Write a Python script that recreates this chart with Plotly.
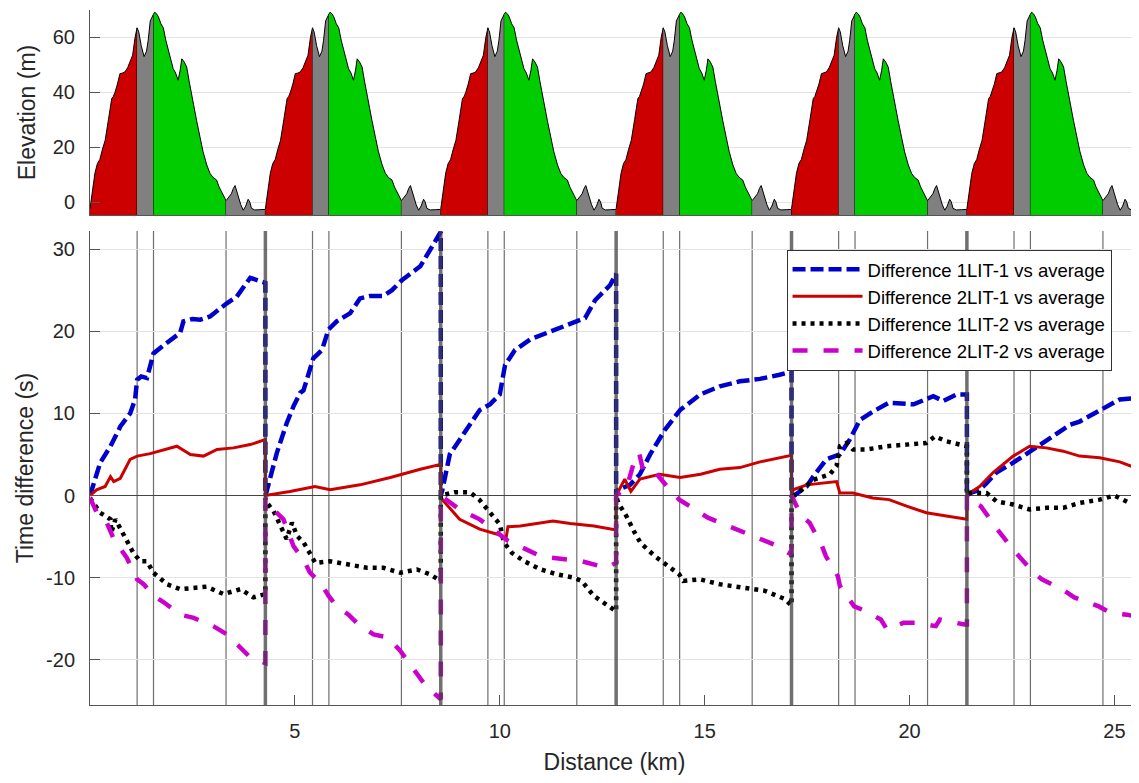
import plotly.graph_objects as go

# Course: one lap profile, repeated for every lap
lap_length = 4.28
n_laps = 6
segment_breaks = [1.15, 1.55, 3.32]
segment_colors = ["#CC0000", "#808080", "#00CC00", "#808080"]

profile_km = [0.00, 0.03, 0.06, 0.12, 0.18, 0.24, 0.30, 0.37, 0.45, 0.53, 0.57, 0.61, 0.67,
              0.73, 0.79, 0.85, 0.92, 0.98, 1.04, 1.10, 1.15, 1.19, 1.25, 1.32, 1.38, 1.42,
              1.47, 1.51, 1.55, 1.58, 1.63, 1.67, 1.73, 1.79, 1.85, 1.91, 1.97, 2.03, 2.09,
              2.15, 2.20, 2.24, 2.30, 2.36, 2.42, 2.48, 2.54, 2.60, 2.68, 2.76, 2.85, 2.93,
              3.00, 3.09, 3.15, 3.21, 3.27, 3.32, 3.38, 3.45, 3.50, 3.54, 3.58, 3.62, 3.68,
              3.74, 3.80, 3.86, 3.90, 3.94, 4.02, 4.15, 4.28]
profile_elev = [-2.5, 0.5, 4, 10.5, 14, 15.5, 19, 22.5, 30, 37.7, 38.5, 40, 43,
                46.8, 47, 47.4, 49, 51, 53.5, 60, 63.5, 62, 57, 53, 55, 59,
                66, 67, 68.5, 69.2, 68.5, 67.5, 65, 63.5, 59, 55.3, 52, 48.6, 47,
                44.4, 48, 52.2, 51, 49.2, 44, 38.9, 34, 29.8, 24, 18.3, 13.5, 10.4,
                9, 8, 5.5, 3.7, 2, 0.5, 1.5, 3, 5, 6, 4, 1.9, -1,
                -3, -1.5, 1, 0, -2.3, -2.9, -2.8, -2.7]

# Time differences (s) against distance (km)
lit11_km = [0, 0.25, 0.5, 0.74, 0.98, 1.1, 1.15, 1.25, 1.39, 1.55, 1.8, 2.2, 2.28, 2.5, 2.69, 2.93,
            3.34, 3.58, 3.91, 4.07, 4.28,
            4.28, 4.31, 4.56, 4.8, 4.97, 5.13, 5.21, 5.45, 5.66, 5.82, 6.02, 6.35, 6.59, 6.84,
            7.16, 7.37, 7.61, 8.06, 8.3, 8.56,
            8.56, 8.6, 8.78, 9.02, 9.27, 9.51, 9.76, 10.0, 10.13, 10.37, 10.74, 11.23, 11.72,
            12.08, 12.33, 12.69, 12.84,
            12.84, 12.89, 13.18, 13.42, 13.67, 14.03, 14.4, 14.89, 15.37, 15.86, 16.35, 16.83, 17.12,
            17.12, 17.16, 17.49, 17.65, 17.97, 18.3, 18.54, 18.79, 19.1, 19.5, 20.1, 20.58, 20.82,
            21.15, 21.4,
            21.4, 21.47, 21.71, 21.88, 22.12, 22.53, 23.01, 23.5, 23.91, 24.15, 24.65, 25.13, 25.6]
lit11_s = [0, 4, 6, 8.4, 10, 11.7, 14.1, 14.5, 14.3, 17.3, 18.3, 19.8, 21.2, 21.5, 21.4, 21.8,
           23.4, 24.2, 26.5, 26.2, 25.9,
           0, 0.5, 5.2, 8.8, 10.9, 12.5, 12.8, 16.7, 17.7, 20.2, 21.2, 22.2, 24.0, 24.3,
           24.3, 25.0, 26.2, 27.9, 29.9, 32.1,
           0, 0.7, 5, 6.8, 8.6, 10.4, 11.1, 12.3, 15.9, 17.7, 19, 19.9, 20.8,
           21.6, 23.8, 25.6, 27,
           0, 0.7, 1.3, 2.6, 5, 8, 10.4, 12.3, 13.3, 13.9, 14.2, 14.7, 15.1,
           0, -0.1, 1.1, 2.3, 4.4, 5, 6.8, 9.2, 10.2, 11.3, 11.1, 12.1, 11.5,
           12.3, 12.3,
           0, 0.3, 0.7, 1.5, 2.8, 4.0, 5.6, 7.2, 8.6, 9.0, 10.4, 11.7, 11.9]

lit21_km = [0, 0.16, 0.37, 0.5, 0.58, 0.74, 0.98, 1.15, 1.47, 1.8, 2.12, 2.45, 2.77, 3.1, 3.5, 3.91, 4.28,
            4.28, 4.88, 5.49, 5.86, 6.59, 7.33, 8.06, 8.56,
            8.56, 8.6, 9.02, 9.51, 10.0, 10.15, 10.2, 10.5, 11.3, 11.72, 12.3, 12.84,
            12.84, 13.05, 13.15, 13.2, 13.42, 13.9, 14.4, 14.9, 15.37, 15.86, 16.35, 16.83, 17.12,
            17.12, 17.16, 17.49, 17.81, 18.22, 18.3, 18.62, 19.1, 19.5, 19.93, 20.41, 20.9, 21.4,
            21.4, 21.47, 21.71, 22.04, 22.53, 22.93, 23.34, 23.75, 24.15, 24.64, 25.13, 25.6]
lit21_s = [0, 0.7, 1.1, 2.3, 1.7, 2.1, 4.4, 4.8, 5.1, 5.6, 6.0, 5.0, 4.8, 5.6, 5.8, 6.2, 6.8,
           0, 0.5, 1.1, 0.7, 1.3, 2.2, 3.2, 3.8,
           0, -0.5, -2.9, -4.1, -4.8, -5.3, -3.8, -3.7, -3.1, -3.4, -3.7, -4.2,
           0, 2, 1.0, 0.5, 2, 2.6, 2.2, 2.6, 3.2, 3.4, 4.1, 4.6, 4.9,
           0, 0.7, 1.3, 1.5, 1.7, 0.3, 0.3, -0.3, -0.5, -1.3, -2.1, -2.5, -2.9,
           0, 0.3, 1.1, 2.8, 4.8, 6.0, 5.8, 5.4, 4.8, 4.6, 4.1, 3.2]

lit12_km = [0, 0.25, 0.5, 0.52, 0.62, 0.82, 1.06, 1.23, 1.39, 1.55, 1.88, 2.2, 2.61, 2.85, 3.26,
            3.67, 3.99, 4.28,
            4.28, 4.32, 4.48, 4.72, 4.8, 4.93, 5.05, 5.21, 5.41, 5.5, 5.86, 6.35, 6.76, 7.16,
            7.57, 7.98, 8.3, 8.56,
            8.56, 8.9, 9.27, 9.5, 10.0, 10.1, 10.3, 10.6, 11.0, 11.4, 11.8, 12.0, 12.29, 12.84,
            12.84, 12.89, 13.09, 13.29, 13.44, 13.79, 14.08, 14.38, 14.48, 14.88, 15.37, 15.97,
            16.47, 16.96, 17.12,
            17.12, 17.16, 17.32, 17.65, 18.06, 18.22, 18.3, 18.46, 18.62, 18.95, 19.44, 20.09,
            20.41, 20.62, 20.9, 21.23, 21.4,
            21.4, 21.47, 21.88, 22.12, 22.53, 22.93, 23.34, 23.75, 24.15, 24.64, 25.0, 25.37, 25.6]
lit12_s = [-0.3, -2.1, -2.9, -4.5, -2.9, -4.9, -7.0, -8.0, -8.0, -9.4, -10.8, -11.4, -11.2, -11.1, -12.0,
           -11.4, -12.4, -12.0,
           -0.3, -0.9, -1.9, -4.5, -5.3, -3.3, -4.9, -5.7, -7.4, -8.2, -8.0, -8.4, -8.8, -8.8,
           -9.4, -9.0, -9.6, -10.4,
           0, 0.4, 0.4, -0.5, -3.5, -5.7, -7.0, -8.0, -9.0, -9.6, -10.0, -10.4, -12.2, -14.1,
           0, -0.9, -2.5, -4.5, -5.8, -7.4, -8.4, -9.6, -10.4, -10.2, -10.8, -11.2,
           -11.6, -12.6, -13.4,
           0, -0.1, 0.5, 1.9, 2.6, 3.6, 6.0, 6.4, 5.6, 5.6, 6.0, 6.2,
           6.4, 7.2, 6.6, 6.2, 6.0,
           0, 0.3, 0.3, -0.7, -1.1, -1.7, -1.5, -1.5, -0.9, -0.5, 0, -0.9, -0.5]

lit22_km = [0, 0.17, 0.41, 0.58, 0.9, 1.15, 1.31, 1.55, 1.8, 2.2, 2.53, 3.01, 3.34, 3.67, 3.91, 4.28,
            4.28, 4.32, 4.56, 4.72, 4.97, 5.21, 5.37, 5.62, 5.82, 6.02, 6.31, 6.55, 6.92, 7.28,
            7.57, 7.81, 8.14, 8.38, 8.56,
            8.56, 9.02, 9.51, 10.0, 10.2, 11.0, 12.0, 12.6, 12.84,
            12.84, 13.1, 13.3, 13.4, 13.5, 13.8, 14.1, 14.38, 15.08, 15.97, 16.76, 17.12,
            17.12, 17.36, 17.56, 17.86, 17.96, 18.25, 18.3, 18.65, 18.85, 19.3, 19.45, 19.85,
            20.14, 20.64, 20.74, 21.34, 21.4,
            21.4, 21.44, 21.74, 22.08, 22.53, 23.03, 23.23, 23.72, 24.02, 24.62, 24.91, 25.31, 25.6]
lit22_s = [-0.3, -2.1, -3.3, -5.3, -7.6, -10.2, -10.8, -12.2, -13.0, -14.5, -14.9, -15.9, -16.9, -18.5, -19.7, -20.4,
           -0.3, -0.9, -2.1, -2.9, -6.2, -7.8, -9.4, -10.6, -12.2, -13.5, -14.5, -15.7, -16.9, -17.3,
           -18.9, -20.5, -22.8, -24.0, -24.8,
           0, -1.7, -2.9, -4.7, -5.5, -7.4, -8.0, -8.8, -8.2,
           0, 1, 4.5, 5.2, 3.0, 2.8, 1.0, -0.5, -2.7, -4.5, -6.1, -7.2,
           0, -2.5, -3.3, -6.1, -7.4, -9.8, -11.0, -13.5, -13.9, -15.1, -16.3, -15.5,
           -15.5, -15.9, -15.1, -15.7, -15.7,
           0, -0.5, -1.3, -3.7, -6.6, -9.4, -10.2, -11.4, -12.4, -13.5, -14.3, -14.5, -14.8]

# tick labels
elev_ticks = [0, 20, 40, 60]
dist_ticks = [5, 10, 15, 20, 25]
diff_ticks = [-20, -10, 0, 10, 20, 30]
diff_labels = ["-20", "-10", "0", "10", "20", "30"]

series = [
    ("Difference 1LIT-1 vs average", lit11_km, lit11_s, "#0000CC", 4.5, "13px,5px"),
    ("Difference 2LIT-1 vs average", lit21_km, lit21_s, "#CC0000", 3, "solid"),
    ("Difference 1LIT-2 vs average", lit12_km, lit12_s, "#000000", 4.5, "4px,5px"),
    ("Difference 2LIT-2 vs average", lit22_km, lit22_s, "#CC00CC", 4.5, "15px,16px"),
]

fig = go.Figure()

# Elevation profile, coloured by segment
edges = [0] + segment_breaks + [lap_length]
for lap in range(n_laps):
    start = lap * lap_length
    for k in range(4):
        a, b = edges[k], edges[k + 1]
        xs = [start + d for d in profile_km if a <= d <= b]
        ys = [e for d, e in zip(profile_km, profile_elev) if a <= d <= b]
        fig.add_trace(go.Scatter(
            x=xs + [start + b, start + a], y=ys + [-10, -10],
            fill="toself", fillcolor=segment_colors[k], mode="lines",
            line=dict(color="black", width=1), showlegend=False,
            hoverinfo="skip", xaxis="x", yaxis="y"))

for i, (name, xs, ys, color, width, dash) in enumerate(series):
    fig.add_trace(go.Scatter(
        x=xs, y=ys, name=name, mode="lines", legendgroup=str(i),
        line=dict(color=color, width=width, dash=dash),
        xaxis="x2", yaxis="y2"))

# Segment and lap boundaries
shapes = []
for lap in range(n_laps):
    start = lap * lap_length
    for br in segment_breaks:
        shapes.append(dict(type="line", xref="x2", yref="y2 domain", x0=start + br, x1=start + br,
                           y0=0, y1=1, line=dict(color="rgba(50,50,50,0.7)", width=1.2), layer="below"))
    if lap > 0:
        shapes.append(dict(type="line", xref="x2", yref="y2 domain", x0=start, x1=start,
                           y0=0, y1=1, line=dict(color="rgba(64,64,64,0.75)", width=3.5), layer="above"))

font = "Liberation Sans, Arial, sans-serif"
axis_common = dict(showline=True, linecolor="#555555", linewidth=1, mirror=False, automargin=False,
                   tickfont=dict(size=20, color="#262626", family=font),
                   tickcolor="#555555")
title_font = dict(size=23, color="#262626", family=font)

# the page body adds an 8px margin, so margins are shifted to compensate
fig.update_layout(
    width=1131, height=767,
    margin=dict(l=82, r=0, t=2, b=70),
    plot_bgcolor="white", paper_bgcolor="white",
    font=dict(family=font, color="#262626"),
    shapes=shapes,
    xaxis=dict(domain=[0, 1], anchor="y", range=[0, 25.6], showticklabels=False,
               ticks="", showgrid=False, zeroline=False, **axis_common),
    yaxis=dict(domain=[0.705, 1], anchor="x", range=[-4.75, 70], tickvals=elev_ticks,
               ticks="inside", ticklen=10, ticklabelstandoff=10, showgrid=True,
               gridcolor="#E3E3E3", zeroline=False,
               title=dict(text="Elevation (m)", font=title_font, standoff=10),
               **axis_common),
    xaxis2=dict(domain=[0, 1], anchor="y2", range=[0, 25.6], tickvals=dist_ticks,
                ticks="inside", ticklen=10, ticklabelstandoff=8, showgrid=False, zeroline=False,
                title=dict(text="Distance (km)", font=title_font, standoff=14),
                **axis_common),
    yaxis2=dict(domain=[0, 0.682], anchor="x2", range=[-25.5, 32.2],
                tickvals=diff_ticks, ticktext=diff_labels,
                ticks="inside", ticklen=10, ticklabelstandoff=10, showgrid=True,
                gridcolor="#E3E3E3", zeroline=True, zerolinecolor="#444444", zerolinewidth=1,
                title=dict(text="Time difference (s)", font=title_font, standoff=6),
                **axis_common),
    legend=dict(x=0.664, y=0.655, xanchor="left", yanchor="top",
                bgcolor="white", bordercolor="#333333", borderwidth=1,
                font=dict(size=18.5, color="#000000", family=font),
                itemwidth=70, tracegroupgap=0, traceorder="grouped"),
)

fig.write_html("out.html")
